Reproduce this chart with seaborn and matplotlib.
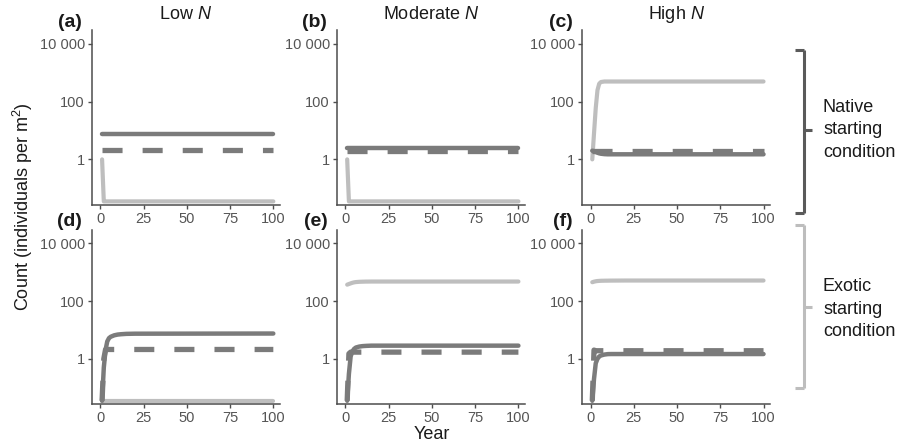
import pandas as pd
import seaborn as sns
import matplotlib.pyplot as plt
from matplotlib.lines import Line2D
from matplotlib.ticker import FixedLocator, FixedFormatter, NullLocator

# simulated years (flat after year 20)
years = [1, 2, 3, 4, 5, 6, 8, 10, 12, 15, 20, 100]

# values near zero are drawn on the lower edge of the log axis
# native starting condition
a_exotic = [1, 0.035, 0.035, 0.035, 0.035, 0.035, 0.035, 0.035, 0.035, 0.035, 0.035, 0.035]
a_native = [7.3, 7.3, 7.3, 7.3, 7.3, 7.3, 7.3, 7.3, 7.3, 7.3, 7.3, 7.3]
a_native2 = [2.1, 2.1, 2.1, 2.1, 2.1, 2.1, 2.1, 2.1, 2.1, 2.1, 2.1, 2.1]

b_exotic = [1, 0.035, 0.035, 0.035, 0.035, 0.035, 0.035, 0.035, 0.035, 0.035, 0.035, 0.035]
b_native = [2.5, 2.5, 2.5, 2.5, 2.5, 2.5, 2.5, 2.5, 2.5, 2.5, 2.5, 2.5]
b_native2 = [1.9, 1.9, 1.9, 1.9, 1.9, 1.9, 1.9, 1.9, 1.9, 1.9, 1.9, 1.9]

c_exotic = [1, 8, 60, 250, 420, 480, 500, 500, 500, 500, 500, 500]
c_native = [2.0, 1.9, 1.8, 1.7, 1.62, 1.57, 1.52, 1.5, 1.5, 1.5, 1.5, 1.5]
c_native2 = [2.0, 2.0, 2.0, 2.0, 2.0, 2.0, 2.0, 2.0, 2.0, 2.0, 2.0, 2.0]

# exotic starting condition
d_exotic = [0.035, 0.035, 0.035, 0.035, 0.035, 0.035, 0.035, 0.035, 0.035, 0.035, 0.035, 0.035]
d_native = [0.035, 0.5, 2.0, 4.0, 5.2, 5.8, 6.5, 6.9, 7.1, 7.3, 7.4, 7.5]
d_native2 = [0.035, 1.0, 2.1, 2.1, 2.1, 2.1, 2.1, 2.1, 2.1, 2.1, 2.1, 2.1]

e_exotic = [370, 390, 410, 430, 445, 455, 465, 470, 473, 475, 475, 475]
e_native = [0.035, 0.3, 1.2, 1.8, 2.2, 2.45, 2.65, 2.75, 2.8, 2.85, 2.85, 2.85]
e_native2 = [0.035, 1.5, 1.7, 1.7, 1.7, 1.7, 1.7, 1.7, 1.7, 1.7, 1.7, 1.7]

f_exotic = [450, 470, 485, 495, 500, 505, 508, 510, 512, 513, 515, 515]
f_native = [0.035, 0.2, 0.7, 1.0, 1.2, 1.3, 1.4, 1.45, 1.46, 1.46, 1.46, 1.46]
f_native2 = [0.035, 2.0, 1.9, 1.9, 1.9, 1.9, 1.9, 1.9, 1.9, 1.9, 1.9, 1.9]

panels = [
    ('(a)', 'Low $\\it{N}$', a_exotic, a_native, a_native2),
    ('(b)', 'Moderate $\\it{N}$', b_exotic, b_native, b_native2),
    ('(c)', 'High $\\it{N}$', c_exotic, c_native, c_native2),
    ('(d)', None, d_exotic, d_native, d_native2),
    ('(e)', None, e_exotic, e_native, e_native2),
    ('(f)', None, f_exotic, f_native, f_native2),
]

sns.set_theme(style='ticks')
plt.rcParams['font.family'] = ['Liberation Sans', 'DejaVu Sans']
plt.rcParams['mathtext.fontset'] = 'custom'
plt.rcParams['mathtext.rm'] = 'Liberation Sans'
plt.rcParams['mathtext.it'] = 'Liberation Sans:italic'

light = '#bebebe'
dark = '#7b7b7b'
axcol = '#4d4d4d'

fig, axes = plt.subplots(2, 3, figsize=(8.99, 4.44), dpi=100)
plt.subplots_adjust(left=0.102, right=0.857, top=0.932, bottom=0.090,
                    wspace=0.30, hspace=0.143)

for ax, (lab, title, exo, nat, nat2) in zip(axes.flat, panels):
    df = pd.DataFrame({'Year': years, 'exotic': exo, 'native': nat, 'native2': nat2})
    sns.lineplot(data=df, x='Year', y='exotic', ax=ax, color=light, linewidth=3.0)
    sns.lineplot(data=df, x='Year', y='native', ax=ax, color=dark, linewidth=3.2)
    sns.lineplot(data=df, x='Year', y='native2', ax=ax, color=dark, linewidth=3.8,
                 linestyle=(0, (3.8, 3.8)))
    ax.set_yscale('log')
    ax.set_ylim(0.027, 30000)
    ax.set_xlim(-5, 104)
    ax.yaxis.set_major_locator(FixedLocator([1, 100, 10000]))
    ax.yaxis.set_major_formatter(FixedFormatter(['1', '100', '10 000']))
    ax.yaxis.set_minor_locator(NullLocator())
    ax.set_xticks([0, 25, 50, 75, 100])
    ax.set_xlabel('')
    ax.set_ylabel('')
    sns.despine(ax=ax)
    for s in ['left', 'bottom']:
        ax.spines[s].set_color(axcol)
        ax.spines[s].set_linewidth(1.1)
    ax.tick_params(colors=axcol, labelcolor='#555555', labelsize=10.5,
                   length=3, width=1.0, pad=2)
    ax.text(-0.05, 1.045, lab, transform=ax.transAxes, ha='right', va='center',
            fontsize=14, fontweight='bold', color='#1a1a1a')
    if title:
        ax.set_title(title, fontsize=13, color='#1a1a1a', pad=8)

fig.text(0.026, 0.535, 'Count (individuals per m$^2$)', rotation=90,
         ha='center', va='center', fontsize=13, color='#1a1a1a')
fig.text(432 / 899, 1 - 434 / 444, 'Year', ha='center', va='center',
         fontsize=13, color='#1a1a1a')

W, H = 899, 444


def bracket(top, bottom, mid, color):
    x = 804
    pts = [([795, x], [top, top]), ([x, x], [top, bottom]),
           ([795, x], [bottom, bottom]), ([x, 812], [mid, mid])]
    for xs, ys in pts:
        fig.add_artist(Line2D([v / W for v in xs], [1 - v / H for v in ys],
                              color=color, linewidth=2.2, solid_capstyle='butt'))


bracket(50, 213, 130, '#5a5a5a')
bracket(225, 388, 307, '#bdbdbd')
fig.text(823 / W, 1 - 130 / H, 'Native\nstarting\ncondition', ha='left', va='center',
         fontsize=13, color='#1a1a1a', linespacing=1.45)
fig.text(823 / W, 1 - 309 / H, 'Exotic\nstarting\ncondition', ha='left', va='center',
         fontsize=13, color='#1a1a1a', linespacing=1.45)

fig.savefig('out.png', dpi=100)
